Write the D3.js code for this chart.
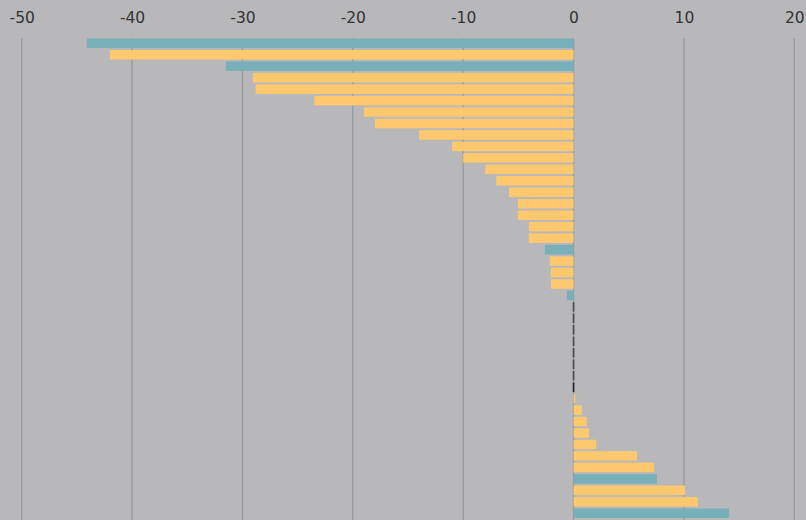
<!DOCTYPE html>
<html>
<head>
  <meta charset="utf-8">
  <script src="https://cdn.jsdelivr.net/npm/d3@7"></script>
  <style>
    body { margin: 0; background: #b8b8ba; }
    .tick text { font-family: "DejaVu Sans", sans-serif; font-size: 15.5px; fill: #333; }
  </style>
</head>
<body>
<script>
  let [w, h] = [806, 520]

  // one row per bar, top to bottom
  let values = [-44.1, -42.0, -31.5, -29.05, -28.8, -23.5, -19.0, -18.0, -14.0, -11.0,
    -10.0, -8.0, -7.0, -5.85, -5.05, -5.05, -4.05, -4.05, -2.6, -2.15,
    -2.05, -2.05, -0.6, 0, 0, 0, 0, 0, 0, 0,
    0, 0.15, 0.75, 1.2, 1.4, 2.05, 5.75, 7.3, 7.55, 10.1,
    11.25, 14.1]
  // t = teal, y = yellow, z = zero marker, k = dark zero marker
  let groups = ["t", "y", "t", "y", "y", "y", "y", "y", "y", "y",
    "y", "y", "y", "y", "y", "y", "y", "y", "t", "y",
    "y", "y", "t", "z", "z", "z", "z", "z", "z", "z",
    "k", "y", "y", "y", "y", "y", "y", "y", "t", "y",
    "y", "t"]
  let ticks = [-50, -40, -30, -20, -10, 0, 10, 20]

  let color = d3.scaleOrdinal()
    .domain(["t", "y", "z", "k"])
    .range(["#77b0b8", "#fec96e", "#4a4a4c", "#222222"])

  let x = d3.scaleLinear().domain([-50, 20]).range([21.7, 794.3])
  let y = d3.scaleBand().domain(d3.range(values.length))
    .range([37.6, 37.6 + 11.46 * values.length]).paddingInner(0.17).paddingOuter(0.08)

  let svg = d3.select("body").append("svg")
    .attr("width", w).attr("height", h)

  // gridlines
  svg.append("g").selectAll("line").data(ticks).join("line")
    .attr("x1", d => x(d)).attr("x2", d => x(d))
    .attr("y1", 38).attr("y2", h)
    .attr("stroke", "#999").attr("stroke-width", 1.3)

  // top axis labels, plain hyphen for minus
  let axis = svg.append("g").attr("transform", "translate(0,23)")
    .call(d3.axisTop(x).tickValues(ticks).tickSize(0).tickPadding(0).tickFormat(d => String(d)))
  axis.select(".domain").remove()

  let rows = values.map((v, i) => ({ v, g: groups[i], i }))

  svg.append("g").selectAll("rect").data(rows).join("rect")
    .attr("x", d => d.g == "z" || d.g == "k" ? x(0) - 0.8 : x(Math.min(0, d.v)))
    .attr("y", d => y(d.i))
    .attr("width", d => d.g == "z" || d.g == "k" ? 1.6 : Math.max(0.8, Math.abs(x(d.v) - x(0))))
    .attr("height", y.bandwidth())
    .attr("fill", d => color(d.g))
</script>
</body>
</html>
